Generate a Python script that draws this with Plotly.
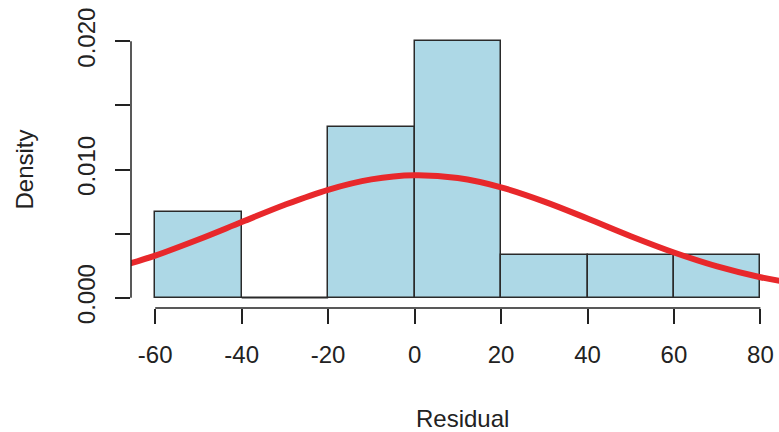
import plotly.graph_objects as go

# Histogram of residuals (density scale)
bin_edges = [-60, -40, -20, 0, 20, 40, 60, 80]
densities = [0.006667, 0.0, 0.013333, 0.02, 0.003333, 0.003333, 0.003333]

# Fitted normal density curve, sampled every 10 units
curve_x = [-70, -60, -50, -40, -30, -20, -10, 0, 10, 20, 30, 40, 50, 60, 70, 80, 90]
curve_y = [0.00225, 0.00329, 0.00454, 0.00590, 0.00725, 0.00842, 0.00923, 0.00955,
           0.00933, 0.00861, 0.00750, 0.00618, 0.00480, 0.00353, 0.00244, 0.00160, 0.00099]

x_ticks = [-60, -40, -20, 0, 20, 40, 60, 80]
x_tick_labels = ["-60", "-40", "-20", "0", "20", "40", "60", "80"]
y_ticks = [0.0, 0.005, 0.010, 0.015, 0.020]
y_tick_labels = ["0.000", "", "0.010", "", "0.020"]

FONT = "Liberation Sans, Arial, Helvetica, sans-serif"
INK = "#222222"
BAR_FILL = "#ADD8E6"
BAR_EDGE = "#2a2a2a"
CURVE = "#E8282B"

centers = [(a + b) / 2 for a, b in zip(bin_edges[:-1], bin_edges[1:])]
widths = [b - a for a, b in zip(bin_edges[:-1], bin_edges[1:])]

fig = go.Figure()

fig.add_trace(go.Bar(
    x=centers, y=densities, width=widths,
    marker=dict(color=BAR_FILL, line=dict(color=BAR_EDGE, width=1.5)),
    showlegend=False, hoverinfo="skip",
))

# empty bins still show their bottom edge
for a, b, d in zip(bin_edges[:-1], bin_edges[1:], densities):
    if d == 0:
        fig.add_trace(go.Scatter(
            x=[a, b], y=[d, d], mode="lines",
            line=dict(color=BAR_EDGE, width=1.5),
            showlegend=False, hoverinfo="skip",
        ))

fig.add_trace(go.Scatter(
    x=curve_x, y=curve_y, mode="lines",
    line=dict(color=CURVE, width=6, shape="spline", smoothing=1.0),
    showlegend=False, hoverinfo="skip",
))

# axis lines spanning only first to last tick
fig.add_shape(type="line", xref="x", yref="paper",
              x0=x_ticks[0], x1=x_ticks[-1], y0=0, y1=0,
              line=dict(color=INK, width=1.5))
fig.add_shape(type="line", xref="paper", yref="y",
              x0=0, x1=0, y0=y_ticks[0], y1=y_ticks[-1],
              line=dict(color=INK, width=1.5))

fig.add_annotation(text="Residual", xref="x", yref="paper", x=11, y=0,
                   yanchor="top", yshift=-95, showarrow=False,
                   font=dict(family=FONT, size=24, color=INK))
fig.add_annotation(text="Density", xref="paper", yref="y", x=0, y=0.010,
                   xanchor="center", xshift=-107, textangle=-90, showarrow=False,
                   font=dict(family=FONT, size=24, color=INK))

fig.update_layout(
    width=779, height=432,
    margin=dict(l=131, r=0, t=31, b=124),
    paper_bgcolor="white", plot_bgcolor="white",
    bargap=0,
    xaxis=dict(range=[-65.6, 84.3], tickvals=x_ticks, ticktext=x_tick_labels,
               ticks="outside", ticklen=15, tickwidth=1.5, tickcolor=INK,
               showgrid=False, zeroline=False, showline=False,
               tickfont=dict(family=FONT, size=24, color=INK),
               ticklabelstandoff=10),
    yaxis=dict(range=[-0.0008, 0.0208], tickvals=y_ticks, ticktext=y_tick_labels,
               ticks="outside", ticklen=15, tickwidth=1.5, tickcolor=INK,
               showgrid=False, zeroline=False, showline=False, tickangle=-90,
               tickfont=dict(family=FONT, size=24, color=INK),
               ticklabelstandoff=10),
)

fig.write_html("out.html")
